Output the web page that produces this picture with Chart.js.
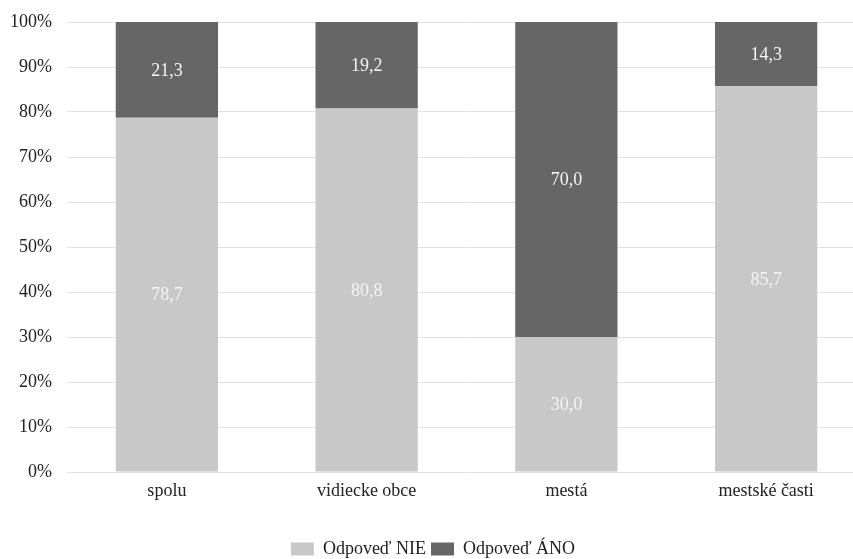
<!DOCTYPE html>
<html>
<head>
<meta charset="utf-8">
<script src="https://cdn.jsdelivr.net/npm/chart.js@4/dist/chart.umd.min.js"></script>
<style>
  html, body { margin: 0; padding: 0; background: #fff; overflow: hidden; }
  #wrap { width: 866px; height: 568px; }
</style>
</head>
<body>
<div id="wrap"><canvas id="c" width="866" height="568"></canvas></div>
<script>
const categories = ['spolu', 'vidiecke obce', 'mestá', 'mestské časti'];
const seriesNames = ['Odpoveď NIE', 'Odpoveď ÁNO'];
const valuesNie = [78.7, 80.8, 30.0, 85.7];
const valuesAno = [21.3, 19.2, 70.0, 14.3];
const yTicks = [0, 10, 20, 30, 40, 50, 60, 70, 80, 90, 100];

const FONT = '"Liberation Serif", "Times New Roman", serif';

// Writes each segment's value (decimal comma) in the middle of its bar piece
const segmentLabels = {
  id: 'segmentLabels',
  afterDatasetsDraw(chart) {
    const ctx = chart.ctx;
    ctx.save();
    ctx.font = '18px ' + FONT;
    ctx.fillStyle = '#f4f4f4';
    ctx.textAlign = 'center';
    ctx.textBaseline = 'middle';
    chart.data.datasets.forEach((ds, i) => {
      const meta = chart.getDatasetMeta(i);
      meta.data.forEach((bar, j) => {
        const v = ds.data[j];
        const y = (bar.y + bar.base) / 2 + 1;
        ctx.fillText(v.toFixed(1).replace('.', ','), bar.x, y);
      });
    });
    ctx.restore();
  }
};

new Chart(document.getElementById('c'), {
  type: 'bar',
  data: {
    labels: categories,
    datasets: [
      { label: seriesNames[0], data: valuesNie, backgroundColor: '#c8c8c8' },
      { label: seriesNames[1], data: valuesAno, backgroundColor: '#666666' }
    ]
  },
  options: {
    responsive: false,
    animation: false,
    devicePixelRatio: 1,
    layout: { padding: { top: 22, left: 0, right: 0, bottom: 0 } },
    datasets: { bar: { categoryPercentage: 1.0, barPercentage: 0.512 } },
    scales: {
      x: {
        stacked: true,
        grid: { display: false, drawTicks: false },
        border: { display: false },
        ticks: { color: '#222', font: { family: FONT, size: 18 }, padding: 8 },
        afterFit(axis) { axis.height = 63; }
      },
      y: {
        stacked: true,
        min: 0,
        max: 100,
        afterBuildTicks(axis) { axis.ticks = yTicks.map(v => ({ value: v })); },
        afterFit(axis) {
          axis.width = 67;
          axis.paddingTop = 0;
          axis.paddingBottom = 0;
        },
        grid: { color: '#e2e2e2', lineWidth: 1, drawTicks: false },
        border: { display: false },
        ticks: {
          color: '#222',
          font: { family: FONT, size: 18 },
          padding: 15,
          callback: v => v + '%'
        }
      }
    },
    plugins: {
      legend: {
        position: 'bottom',
        labels: {
          color: '#222',
          font: { family: FONT, size: 18 },
          boxWidth: 23,
          boxHeight: 13,
          padding: 5
        }
      },
      tooltip: { enabled: false }
    }
  },
  plugins: [segmentLabels]
});
</script>
</body>
</html>
